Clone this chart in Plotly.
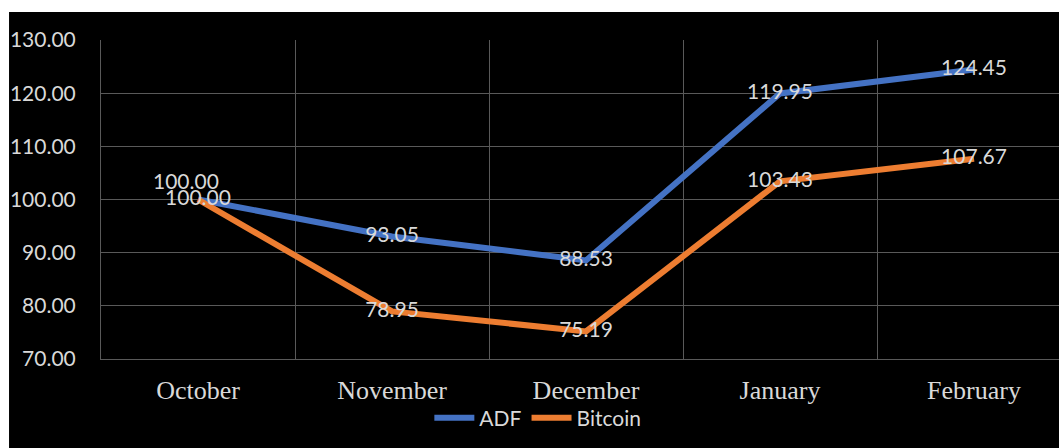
import plotly.graph_objects as go

months = ["October", "November", "December", "January", "February"]
adf = [100.00, 93.05, 88.53, 119.95, 124.45]
bitcoin = [100.00, 78.95, 75.19, 103.43, 107.67]
y_ticks = [70, 80, 90, 100, 110, 120, 130]

x_idx = list(range(len(months)))
GRID = "#595959"
LABEL = "#d9d9d9"
SANS = "Lato, 'Open Sans', sans-serif"

fig = go.Figure()
fig.add_trace(go.Scatter(
    x=x_idx, y=adf, name="ADF", mode="lines+text",
    line=dict(color="#4472C4", width=6),
    text=[""] + [f"{v:.2f}" for v in adf[1:]],
    textposition="middle center",
    textfont=dict(color=LABEL, size=21, family=SANS),
))
fig.add_trace(go.Scatter(
    x=x_idx, y=bitcoin, name="Bitcoin", mode="lines+text",
    line=dict(color="#ED7D31", width=6),
    text=[f"{v:.2f}" for v in bitcoin],
    textposition="middle center",
    textfont=dict(color=LABEL, size=21, family=SANS),
))

fig.update_layout(
    width=1059, height=448,
    margin=dict(l=101, r=0, t=40, b=89),
    paper_bgcolor="black", plot_bgcolor="black",
    showlegend=True,
    legend=dict(orientation="h", x=0.456, xanchor="center", y=-0.185, yanchor="middle",
                font=dict(color=LABEL, size=21, family=SANS), bgcolor="rgba(0,0,0,0)",
                itemwidth=40, traceorder="normal"),
    xaxis=dict(
        range=[-0.5, 4.438], tickvals=x_idx, ticktext=months,
        showgrid=False, zeroline=False,
        showline=True, linecolor=GRID, linewidth=1,
        minor=dict(tick0=-0.5, dtick=1, showgrid=True, gridcolor=GRID, gridwidth=1),
        tickfont=dict(family="'Liberation Serif', 'DejaVu Serif', serif", size=26, color=LABEL),
        ticks="", ticklabelstandoff=8,
    ),
    yaxis=dict(
        range=[70, 130], tickvals=y_ticks, tickformat=".2f",
        showgrid=True, gridcolor=GRID, gridwidth=1, zeroline=False,
        showline=True, linecolor=GRID, linewidth=1,
        tickfont=dict(family=SANS, size=21, color=LABEL),
        ticks="", ticklabelstandoff=20,
    ),
    annotations=[
        dict(x=x_idx[0], y=adf[0], xref="x", yref="y", text=f"{adf[0]:.2f}",
             showarrow=False, xshift=-12, yshift=19,
             font=dict(color=LABEL, size=21, family=SANS)),
    ],
    shapes=[
        dict(type="rect", xref="paper", yref="paper", x0=-0.2, x1=-0.0960, y0=-0.4, y1=1.3,
             fillcolor="white", line=dict(width=0), layer="above"),
        dict(type="rect", xref="paper", yref="paper", x0=-0.2, x1=1.1, y0=1.0878, y1=1.3,
             fillcolor="white", line=dict(width=0), layer="above"),
    ],
)

fig.write_html("out.html")
